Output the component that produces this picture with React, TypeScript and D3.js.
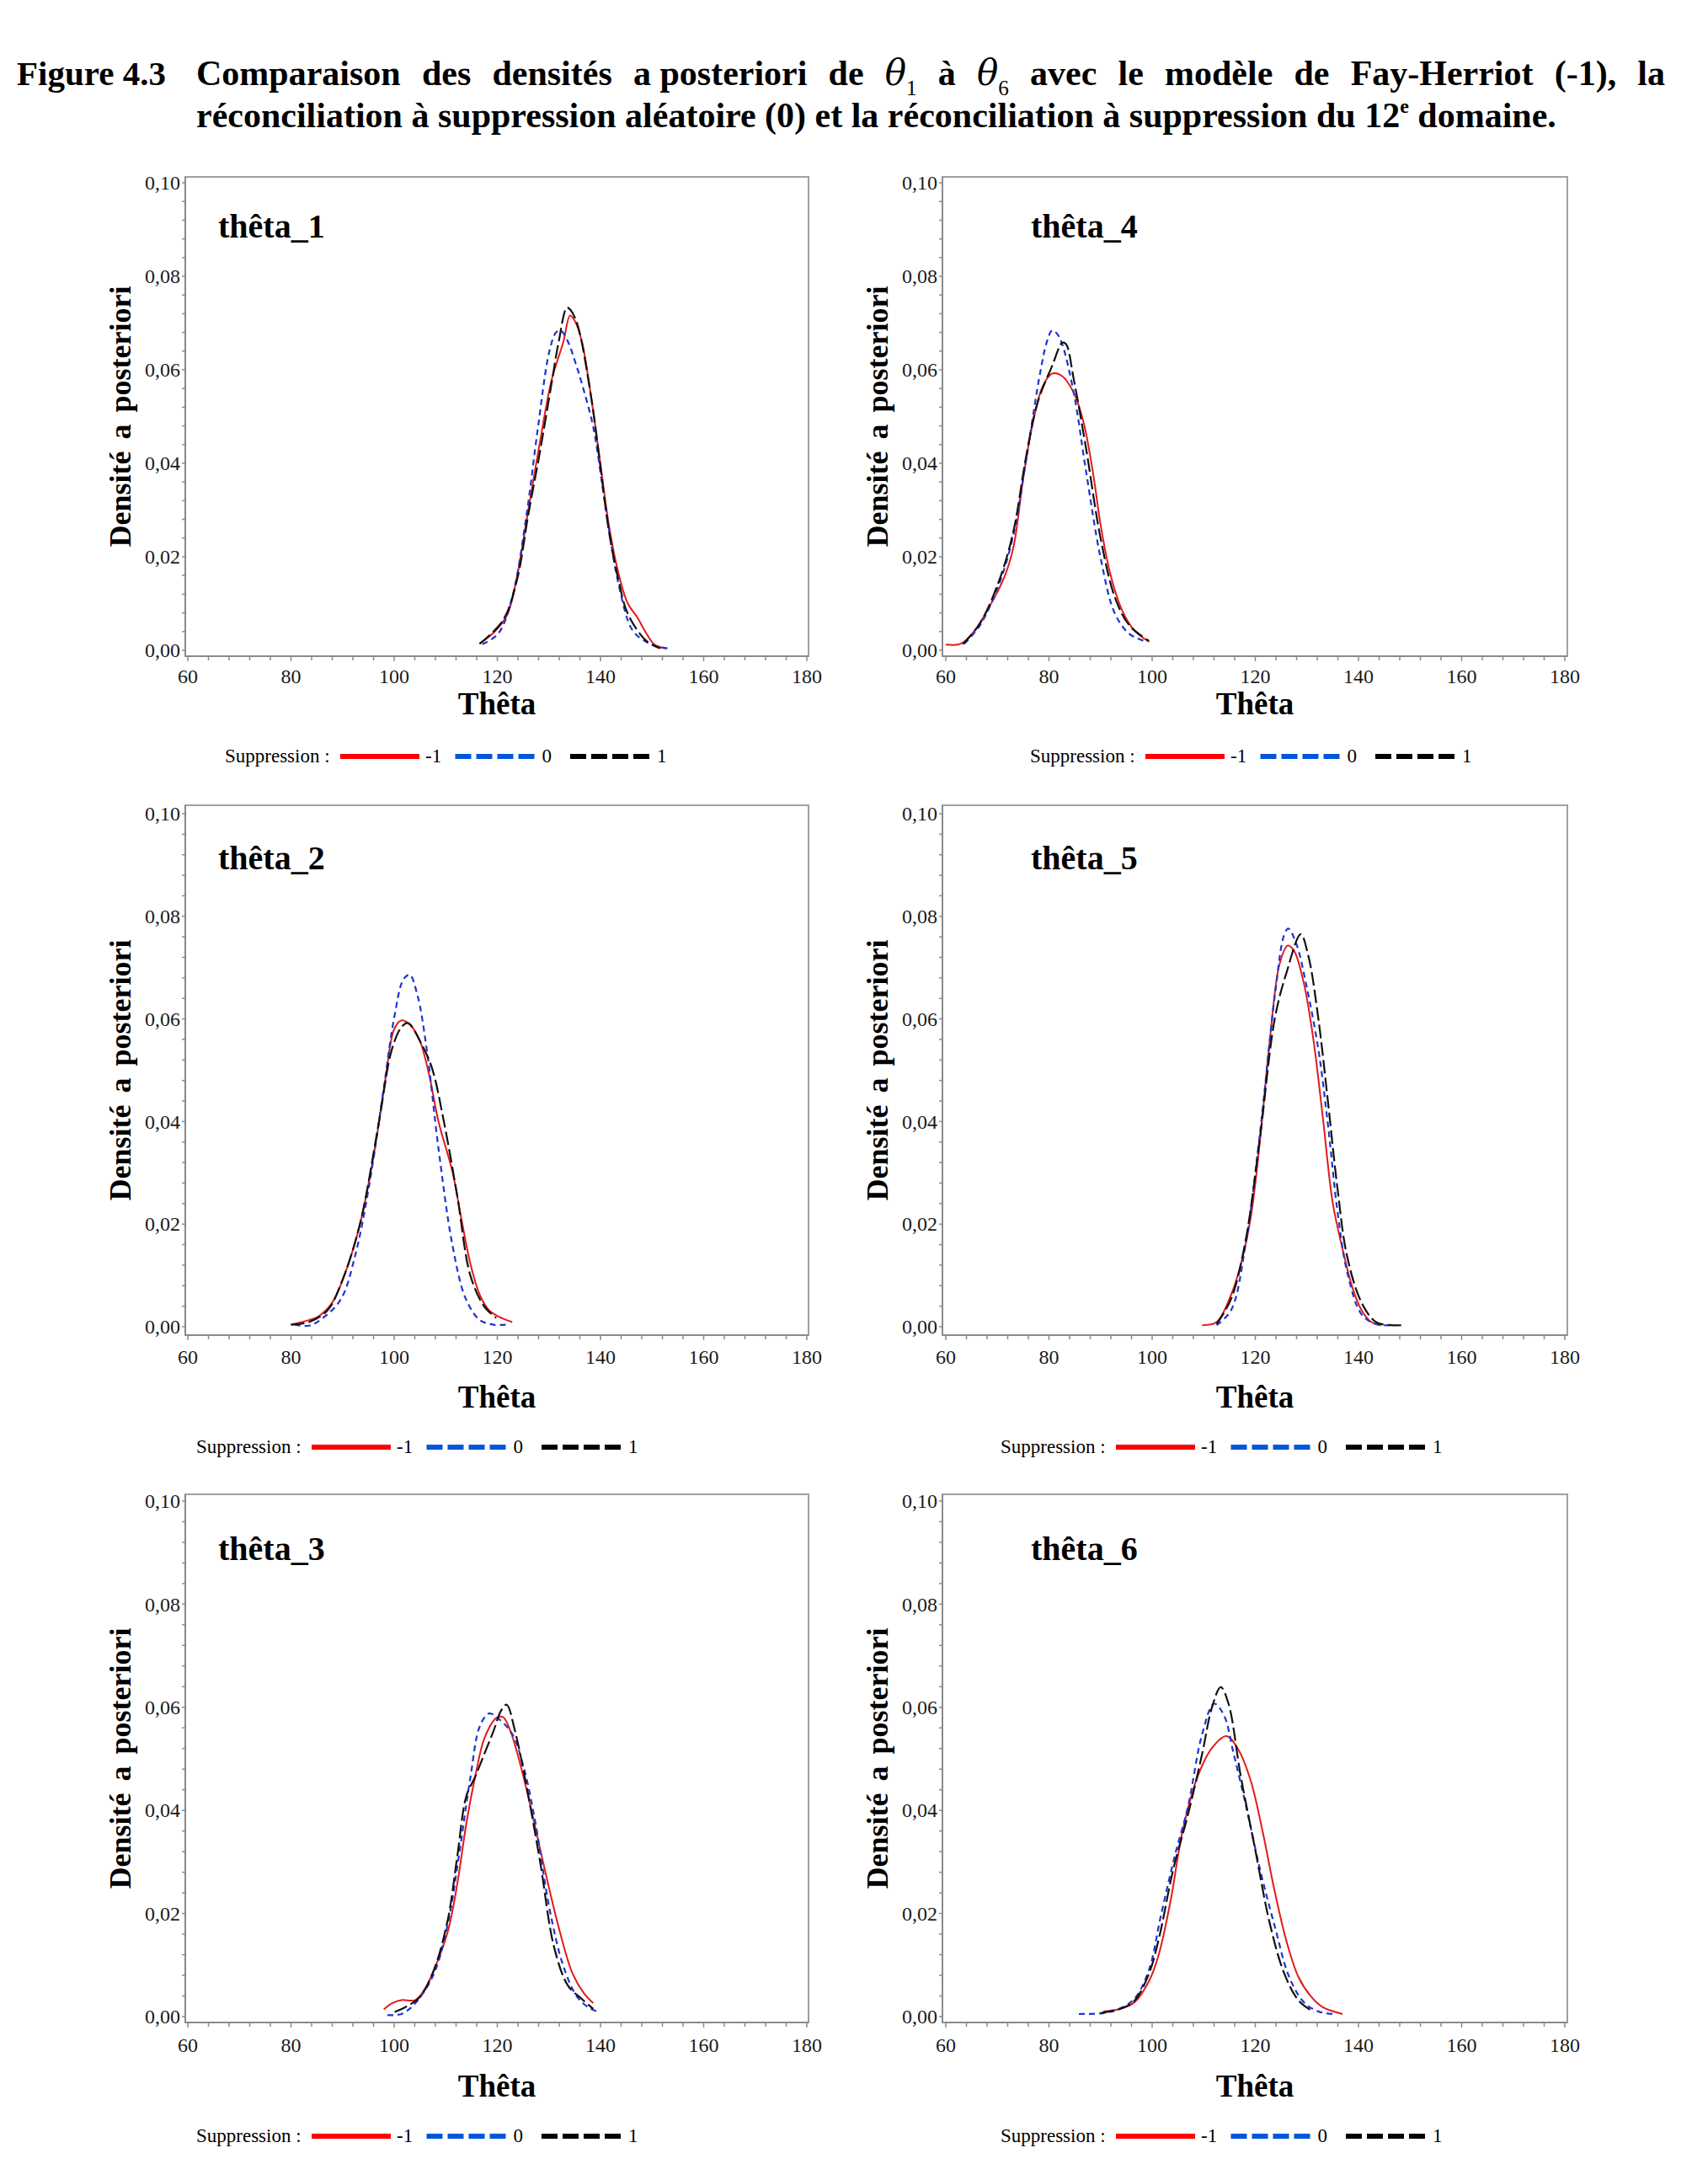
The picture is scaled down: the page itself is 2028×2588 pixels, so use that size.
import React, { useLayoutEffect, useRef, useState } from "react";
import * as d3 from "d3";

type Pt = [number, number];

// Densités a posteriori lues par domaine : [thêta, densité]
// -1 = Fay-Herriot, 0 = suppression aléatoire, 1 = suppression du 12e domaine

const t1Fh: Pt[] = [[116.5, 0.0014], [119.5, 0.004], [122, 0.0078], [123.8, 0.0157], [126, 0.030], [128.3, 0.0448], [130.5, 0.0577], [132.8, 0.066], [134.1, 0.0716], [135, 0.0705], [136.4, 0.066], [138.1, 0.0548], [139.9, 0.0406], [141.7, 0.0263], [143.5, 0.0164], [145.3, 0.010], [147.1, 0.0071], [148.9, 0.0036], [150.5, 0.0012], [152.7, 0.0004]];
const t1Alea: Pt[] = [[117.1, 0.0013], [120.2, 0.0036], [122.9, 0.0114], [125.6, 0.0285], [127.8, 0.047], [130.1, 0.064], [131.4, 0.068], [132.3, 0.0684], [133.7, 0.066], [135, 0.062], [136.4, 0.057], [138.6, 0.0477], [140.8, 0.032], [143.5, 0.0142], [146.2, 0.0043], [148.9, 0.0018], [151, 0.0008], [153.2, 0.0004]];
const t1Dom: Pt[] = [[116.6, 0.0014], [121.1, 0.0064], [123.8, 0.015], [126, 0.029], [128.3, 0.0427], [130.5, 0.057], [131.9, 0.066], [133.5, 0.0733], [134.2, 0.0728], [135.5, 0.0698], [138.1, 0.0548], [139.9, 0.040], [141.7, 0.025], [143.5, 0.015], [145.3, 0.0078], [148.9, 0.002], [151.6, 0.0004]];

const t2Fh: Pt[] = [[80, 0.0004], [83.5, 0.0013], [85.3, 0.002], [88, 0.0047], [90.6, 0.0107], [93.3, 0.0197], [96, 0.0332], [98.3, 0.0482], [100, 0.058], [101.4, 0.0597], [103.2, 0.0587], [105, 0.0557], [106.8, 0.049], [108.6, 0.040], [111.3, 0.0302], [113, 0.0212], [114.8, 0.0122], [116.6, 0.0062], [118.4, 0.0032], [120.2, 0.002], [122.9, 0.0009]];
const t2Alea: Pt[] = [[80.7, 0.0004], [83.5, 0.0002], [86.2, 0.0017], [89.7, 0.0054], [92.4, 0.0137], [95.1, 0.0272], [97.8, 0.0452], [100, 0.0602], [101.8, 0.0677], [103, 0.0686], [104.5, 0.0647], [106.3, 0.0542], [108.6, 0.0347], [111.3, 0.0159], [113.9, 0.0054], [116.6, 0.0013], [119.3, 0.0004], [121.9, 0.0004]];
const t2Dom: Pt[] = [[80, 0.0004], [83.5, 0.0009], [87.1, 0.0032], [89.7, 0.0084], [93.3, 0.0197], [96.9, 0.039], [99.6, 0.0542], [101.5, 0.0585], [102.7, 0.0592], [105, 0.0557], [107.3, 0.0505], [109.5, 0.0407], [112.2, 0.0257], [114.8, 0.0099], [117.5, 0.0039], [119.8, 0.0017]];

const t3Fh: Pt[] = [[98, 0.0014], [99.6, 0.0026], [101.4, 0.0032], [104.1, 0.0032], [105.9, 0.0053], [107.7, 0.009], [110.4, 0.0165], [112.2, 0.0255], [114, 0.0375], [115.7, 0.0465], [117.5, 0.054], [119.8, 0.0579], [121.1, 0.0581], [122.5, 0.0555], [124.3, 0.0495], [126.5, 0.0405], [129.2, 0.0285], [131.9, 0.0173], [134.6, 0.0083], [136.8, 0.0045], [138.6, 0.0026]];
const t3Alea: Pt[] = [[98.7, 0.0003], [101.4, 0.0005], [104.1, 0.0026], [107.7, 0.0083], [110.4, 0.018], [112.6, 0.0315], [114.8, 0.0465], [116.6, 0.0563], [118.4, 0.0588], [120.2, 0.0578], [122.9, 0.0548], [125.2, 0.048], [127.4, 0.0375], [130.1, 0.021], [132.8, 0.0098], [135.5, 0.0038], [138.1, 0.0015], [139.9, 0.0009]];
const t3Dom: Pt[] = [[100.1, 0.0009], [102.3, 0.0019], [105, 0.0038], [107.7, 0.009], [110.4, 0.0188], [112.2, 0.0308], [114, 0.0428], [115.7, 0.0465], [117.5, 0.051], [119.3, 0.0555], [120.7, 0.0593], [121.8, 0.0605], [123.4, 0.0555], [125.6, 0.045], [128.3, 0.030], [131, 0.0135], [133.7, 0.006], [136.4, 0.0034], [138.6, 0.0015]];

const t4Fh: Pt[] = [[60, 0.0012], [62.3, 0.0012], [63.5, 0.0018], [65.6, 0.0042], [68.4, 0.0092], [71.3, 0.0155], [73.1, 0.022], [75, 0.0367], [76.9, 0.0488], [78.8, 0.0565], [80.6, 0.0592], [82.5, 0.0587], [84.8, 0.0551], [86.7, 0.0488], [88.6, 0.0375], [90, 0.0269], [91.9, 0.0163], [94.2, 0.0085], [96.6, 0.0042], [99.4, 0.0018]];
const t4Alea: Pt[] = [[63.6, 0.0014], [66.6, 0.0053], [70.3, 0.0141], [73.1, 0.0247], [75.9, 0.0431], [78.3, 0.0594], [79.6, 0.066], [80.6, 0.0684], [81.5, 0.0678], [82.5, 0.0657], [84.8, 0.0551], [87.2, 0.0382], [90, 0.0198], [92.8, 0.0078], [95.6, 0.0035], [98.4, 0.002]];
const t4Dom: Pt[] = [[63.3, 0.0013], [66.6, 0.0057], [70.3, 0.0148], [73.1, 0.0254], [75.5, 0.041], [77.8, 0.053], [80.6, 0.0608], [82.6, 0.0658], [83.3, 0.0655], [84.8, 0.058], [87.2, 0.0431], [90, 0.024], [92.8, 0.0113], [95.6, 0.0053], [99.4, 0.002]];

const t5Fh: Pt[] = [[109.7, 0.0003], [112.5, 0.0009], [115.3, 0.0062], [117.2, 0.0122], [119.1, 0.0212], [120.9, 0.0362], [122.8, 0.0557], [124.7, 0.0707], [126.3, 0.0743], [127.5, 0.0733], [129.4, 0.067], [131.3, 0.0557], [133.1, 0.0407], [135, 0.0242], [136.9, 0.0152], [138.8, 0.0077], [140.6, 0.0032], [142.5, 0.0009], [144.4, 0.0003]];
const t5Alea: Pt[] = [[112.5, 0.0003], [115.3, 0.0032], [118.1, 0.0159], [120.9, 0.0377], [123.8, 0.0647], [125.6, 0.0764], [126.4, 0.0776], [128, 0.0745], [129.8, 0.067], [132.2, 0.0542], [134.1, 0.0392], [135.9, 0.0227], [137.8, 0.0107], [140.6, 0.0024], [143.4, 0.0005], [146.3, 0.0003]];
const t5Dom: Pt[] = [[112.5, 0.0005], [115.3, 0.0054], [118.1, 0.0167], [120.9, 0.0369], [123.8, 0.0602], [126.1, 0.0692], [128.8, 0.0765], [130.3, 0.0722], [132.2, 0.0602], [134.1, 0.0437], [135.9, 0.0272], [137.8, 0.0137], [140.6, 0.0047], [143.4, 0.0009], [146.3, 0.0003], [148.6, 0.0003]];

const t6Fh: Pt[] = [[90.5, 0.001], [93.8, 0.0015], [96.6, 0.0028], [99.4, 0.0069], [101.3, 0.0121], [103.6, 0.0226], [105.9, 0.036], [108.8, 0.0465], [111.6, 0.0521], [114.4, 0.0544], [116.7, 0.0518], [119.1, 0.0458], [121.4, 0.036], [123.8, 0.0241], [126.1, 0.0144], [128.4, 0.0076], [130.8, 0.0039], [133.1, 0.0018], [136.9, 0.0005]];
const t6Alea: Pt[] = [[85.8, 0.0005], [90.9, 0.0007], [93.8, 0.0016], [96.6, 0.0035], [99.4, 0.0091], [101.7, 0.0196], [104.5, 0.0316], [106.9, 0.0405], [109.7, 0.0548], [112, 0.0607], [113.9, 0.0585], [115.8, 0.051], [118.1, 0.0413], [120.9, 0.0286], [123.8, 0.0174], [126.6, 0.0076], [129.4, 0.0028], [132.2, 0.001], [135, 0.0005]];
const t6Dom: Pt[] = [[90, 0.0007], [93.8, 0.0015], [96.6, 0.0031], [99.4, 0.0084], [101.3, 0.0151], [104.1, 0.0286], [106.9, 0.039], [109.7, 0.051], [111.6, 0.060], [113.3, 0.0639], [114.8, 0.0607], [117.2, 0.0465], [120, 0.0323], [122.8, 0.0181], [125.6, 0.0084], [128.4, 0.0031], [131.3, 0.0009]];

const panelNames = ["thêta_1", "thêta_2", "thêta_3", "thêta_4", "thêta_5", "thêta_6"];
const suppressionLevels = ["-1", "0", "1"];
const xTicks = [60, 80, 100, 120, 140, 160, 180];
const yTicks = [0, 0.02, 0.04, 0.06, 0.08, 0.1];
const xMinorTicks = d3.range(60, 181, 4);
const yMinorTicks = d3.range(0, 0.1001, 0.004);

const panelSeries: Pt[][][] = [
    [t1Fh, t1Alea, t1Dom],
    [t2Fh, t2Alea, t2Dom],
    [t3Fh, t3Alea, t3Dom],
    [t4Fh, t4Alea, t4Dom],
    [t5Fh, t5Alea, t5Dom],
    [t6Fh, t6Alea, t6Dom],
];

// mise en page : colonnes (gauche / droite) et rangées
const COLS = [
    { frameL: 220, frameR: 960, x0: 223, x1: 958, yTitleX: 155, labelX: 259, legendX: [267, 233, 233] },
    { frameL: 1119, frameR: 1861, x0: 1123, x1: 1858, yTitleX: 1054, labelX: 1224, legendX: [1223, 1188, 1188] },
];
const ROWS = [
    { top: 210, y10: 217, y0: 772, axis: 779, tickBase: 811, titleBase: 848, legendY: 898, labelBase: 282 },
    { top: 956, y10: 966, y0: 1575, axis: 1585, tickBase: 1619, titleBase: 1671, legendY: 1718, labelBase: 1032 },
    { top: 1774, y10: 1782, y0: 2394, axis: 2401, tickBase: 2436, titleBase: 2489, legendY: 2536, labelBase: 1852 },
];

const SERIF = '"Liberation Serif", "Times New Roman", Times, serif';
const curveStyles = [
    { stroke: "#e31a1c", dash: undefined as string | undefined, width: 2 },
    { stroke: "#1f35d0", dash: "7,5", width: 2.2 },
    { stroke: "#111111", dash: "16,5", width: 2.2 },
];
const legendStyles = [
    { stroke: "#ff0000", dash: undefined as string | undefined },
    { stroke: "#0057d9", dash: "19,6" },
    { stroke: "#000000", dash: "19,6" },
];

const fmt = (v: number) => v.toFixed(2).replace(".", ",");

/** un mot du titre ; "θ|1" donne θ en italique avec l'indice 1 */
function TitleWord({ w, size }: { w: string; size: number }) {
    if (w.startsWith("θ|")) {
        return <>
            <tspan fontStyle="italic" fontWeight="normal" fontFamily='"DejaVu Serif", serif'>θ</tspan>
            <tspan fontSize={size * 0.6} dy={size * 0.28} fontWeight="normal">{w.slice(2)}</tspan>
        </>;
    }
    return <>{w}</>;
}

/** ligne justifiée entre x0 et x1 : on mesure chaque mot puis on répartit l'espace */
function JustifiedLine({ words, x0, x1, y, size }: { words: string[]; x0: number; x1: number; y: number; size: number }) {
    const refs = useRef<(SVGTextElement | null)[]>([]);
    const [xs, setXs] = useState<number[] | null>(null);

    useLayoutEffect(() => {
        const widths = refs.current.map(el => (el ? el.getComputedTextLength() : 0));
        const gap = (x1 - x0 - d3.sum(widths)) / (words.length - 1);
        let cur = x0;
        const out: number[] = [];
        widths.forEach(wd => { out.push(cur); cur += wd + gap; });
        setXs(out);
    }, []);

    return <g>
        {words.map((w, i) => (
            <text key={i} ref={el => { refs.current[i] = el; }} x={xs ? xs[i] : x0} y={y}
                fontSize={size} fontWeight="bold" fontFamily={SERIF} visibility={xs ? "visible" : "hidden"}>
                <TitleWord w={w} size={size} />
            </text>
        ))}
    </g>;
}

function Panel({ idx }: { idx: number }) {
    const col = COLS[Math.floor(idx / 3)];
    const row = ROWS[idx % 3];
    const x = d3.scaleLinear().domain([60, 180]).range([col.x0, col.x1]);
    const y = d3.scaleLinear().domain([0, 0.1]).range([row.y0, row.y10]);
    const line = d3.line<Pt>().x(d => x(d[0])).y(d => y(d[1])).curve(d3.curveCatmullRom.alpha(0.5));
    const cx = (col.frameL + col.frameR) / 2;
    const cy = (row.top + row.axis) / 2;
    const lx = col.legendX[idx % 3];
    const ly = row.legendY;
    const axisColor = "#8a8a8a";

    return <g>
        {/* cadre */}
        <rect x={col.frameL} y={row.top} width={col.frameR - col.frameL} height={row.axis - row.top}
            fill="none" stroke="#a0a0a0" strokeWidth={2} />
        <line x1={col.frameL} x2={col.frameL} y1={row.top} y2={row.axis} stroke={axisColor} strokeWidth={2} />
        <line x1={col.frameL} x2={col.frameR} y1={row.axis} y2={row.axis} stroke={axisColor} strokeWidth={2} />

        {/* axe des x */}
        {xMinorTicks.map(t => (
            <line key={"xm" + t} x1={x(t)} x2={x(t)} y1={row.axis} y2={row.axis + (t % 20 === 0 ? 6 : 5)}
                stroke={axisColor} strokeWidth={1.5} />
        ))}
        {xTicks.map(t => (
            <text key={"xl" + t} x={x(t)} y={row.tickBase} textAnchor="middle" fontSize={24}
                fontFamily={SERIF} fill="#1a1a1a">{t}</text>
        ))}
        <text x={cx} y={row.titleBase} textAnchor="middle" fontSize={37} fontWeight="bold" fontFamily={SERIF}>Thêta</text>

        {/* axe des y */}
        {yMinorTicks.map((t, i) => (
            <line key={"ym" + i} x1={col.frameL - 4} x2={col.frameL} y1={y(t)} y2={y(t)}
                stroke={axisColor} strokeWidth={1.5} />
        ))}
        {yTicks.map(t => (
            <text key={"yl" + t} x={col.frameL - 6} y={y(t)} dy="0.34em" textAnchor="end" fontSize={24}
                fontFamily={SERIF} fill="#1a1a1a">{fmt(t)}</text>
        ))}
        <text transform={`translate(${col.yTitleX},${cy}) rotate(-90)`} textAnchor="middle" fontSize={36}
            fontWeight="bold" fontFamily={SERIF} wordSpacing={5}>Densité a posteriori</text>

        {/* étiquette du domaine */}
        <text x={col.labelX} y={row.labelBase} fontSize={40} fontWeight="bold" fontFamily={SERIF}>{panelNames[idx]}</text>

        {/* courbes de densité */}
        {panelSeries[idx].map((s, k) => (
            <path key={k} d={line(s) || ""} fill="none" stroke={curveStyles[k].stroke}
                strokeWidth={curveStyles[k].width} strokeDasharray={curveStyles[k].dash} />
        ))}

        {/* légende */}
        <text x={lx} y={ly + 7} fontSize={23} fontFamily={SERIF}>Suppression :</text>
        {suppressionLevels.map((lev, k) => {
            const start = lx + 137 + k * 136.5;
            return <g key={lev}>
                <line x1={start} x2={start + 94} y1={ly} y2={ly} stroke={legendStyles[k].stroke}
                    strokeWidth={6} strokeDasharray={legendStyles[k].dash} />
                <text x={start + 101 + (k === 0 ? 0 : 2)} y={ly + 7} fontSize={23} fontFamily={SERIF}>{lev}</text>
            </g>;
        })}
    </g>;
}

const titleLine1 = ["Comparaison", "des", "densités", "a posteriori", "de", "θ|1", "à", "θ|6", "avec", "le", "modèle", "de", "Fay-Herriot", "(-1),", "la"];

export default function App() {
    return (
        <svg width={2028} height={2588} style={{ position: "absolute", left: 0, top: 0, background: "#fff" }}>
            <rect width={2028} height={2588} fill="#fff" />
            <text x={20} y={101} fontSize={41} fontWeight="bold" fontFamily={SERIF}>Figure 4.3</text>
            <JustifiedLine words={titleLine1} x0={233} x1={1977} y={101} size={42} />
            <text x={233} y={151} fontSize={42} fontWeight="bold" fontFamily={SERIF}>
                réconciliation à suppression aléatoire (0) et la réconciliation à suppression du 12
                <tspan fontSize={24} dy={-17}>e</tspan>
                <tspan dy={17}> domaine.</tspan>
            </text>
            {d3.range(6).map(i => <Panel key={i} idx={i} />)}
        </svg>
    );
}
